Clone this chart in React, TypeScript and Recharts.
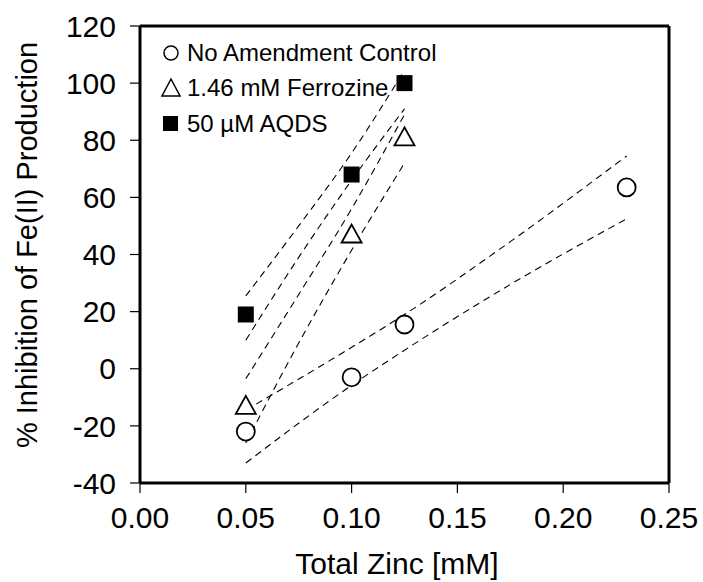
import React from 'react';
import { ComposedChart, Scatter, Line, XAxis, YAxis, ReferenceLine } from 'recharts';

// measured points
const zincNoAmend = [0.05, 0.1, 0.125, 0.23];
const noAmendment = [-22, -3, 15.5, 63.5];
const zincAdded = [0.05, 0.1, 0.125];
const ferrozine = [-13, 47, 81];
const aqds = [19, 68, 100];

// dashed confidence bands
const bandXNoAmend = [0.05, 0.1, 0.125, 0.175, 0.23];
const noAmendUpper = [-14.5, 7.5, 19, 44.5, 74.5];
const noAmendLower = [-33, -5.8, 6.5, 29.5, 52.5];
const bandXAdded = [0.05, 0.075, 0.1, 0.125];
const ferrozineUpper = [-3.5, 26, 56, 89];
const ferrozineLower = [-26, 9, 41.5, 72];
const aqdsUpper = [25.5, 50, 75.5, 104.5];
const aqdsLower = [10, 39, 66, 91];

const xTicks = [0, 0.05, 0.1, 0.15, 0.2, 0.25];
const yTicks = [-40, -20, 0, 20, 40, 60, 80, 100, 120];

const legendItems = ['No Amendment Control', '1.46 mM Ferrozine', '50 µM AQDS'];

const toPts = (xs: number[], ys: number[]) => xs.map((x, i) => ({ x, y: ys[i] }));

const FONT = '"Liberation Sans", Arial, sans-serif';

const CircleMark = (props: any) => (
  <circle cx={props.cx} cy={props.cy} r={9} fill="#fff" stroke="#000" strokeWidth={1.8} />
);
const TriangleMark = (props: any) => {
  const { cx, cy } = props;
  return (
    <polygon
      points={`${cx},${cy - 10} ${cx - 10},${cy + 8} ${cx + 10},${cy + 8}`}
      fill="#fff"
      stroke="#000"
      strokeWidth={1.8}
    />
  );
};
const SquareMark = (props: any) => (
  <rect x={props.cx - 8} y={props.cy - 8} width={16} height={16} fill="#000" />
);

// legend sits inside the plot frame, top left
const LegendBox = () => (
  <div
    style={{
      position: 'absolute',
      left: 160,
      top: 35,
      fontFamily: FONT,
      fontSize: 24,
      color: '#000',
    }}
  >
    {legendItems.map((name, i) => (
      <div key={name} style={{ display: 'flex', alignItems: 'center', height: 35.5 }}>
        <svg width={22} height={22} style={{ marginRight: 5 }}>
          {i === 0 && <circle cx={11} cy={11} r={7} fill="#fff" stroke="#000" strokeWidth={1.5} />}
          {i === 1 && <polygon points="11,2 2,19 20,19" fill="#fff" stroke="#000" strokeWidth={1.5} />}
          {i === 2 && <rect x={3} y={3} width={15} height={15} fill="#000" />}
        </svg>
        <span>{name}</span>
      </div>
    ))}
  </div>
);

const bandProps = {
  type: 'monotone' as const,
  dataKey: 'y',
  stroke: '#000',
  strokeWidth: 1.1,
  strokeDasharray: '7 5',
  dot: false,
  activeDot: false,
  isAnimationActive: false,
  legendType: 'none' as const,
};

export default function App() {
  return (
    <div style={{ position: 'absolute', left: 0, top: 0, width: 703, height: 582, background: '#fff' }}>
      <ComposedChart
        width={703}
        height={582}
        margin={{ top: 26, right: 34, bottom: 0, left: 0 }}
        style={{ fontFamily: FONT }}
      >
        <XAxis
          type="number"
          dataKey="x"
          domain={[0, 0.25]}
          ticks={xTicks}
          tickFormatter={(v: number) => v.toFixed(2)}
          allowDataOverflow
          height={99}
          tickSize={10}
          tickMargin={14}
          axisLine={{ stroke: '#000', strokeWidth: 3 }}
          tickLine={{ stroke: '#000', strokeWidth: 1.2 }}
          tick={{ fill: '#000', fontSize: 30 }}
          label={() => (
            <text x={397} y={574} textAnchor="middle" fontSize={30} fill="#000" fontFamily={FONT}>
              Total Zinc [mM]
            </text>
          )}
        />
        <YAxis
          type="number"
          dataKey="y"
          domain={[-40, 120]}
          ticks={yTicks}
          allowDataOverflow
          width={140}
          tickSize={10}
          tickMargin={14}
          axisLine={{ stroke: '#000', strokeWidth: 3 }}
          tickLine={{ stroke: '#000', strokeWidth: 1.2 }}
          tick={{ fill: '#000', fontSize: 30 }}
          label={() => (
            <text
              x={27}
              y={245}
              transform="rotate(-90, 27, 245)"
              textAnchor="middle"
              dominantBaseline="central"
              fontSize={29}
              fill="#000"
              fontFamily={FONT}
            >
              % Inhibition of Fe(II) Production
            </text>
          )}
        />
        <ReferenceLine y={120} stroke="#000" strokeWidth={3} />
        <ReferenceLine x={0.25} stroke="#000" strokeWidth={3} />

        <Line {...bandProps} data={toPts(bandXNoAmend, noAmendUpper)} />
        <Line {...bandProps} data={toPts(bandXNoAmend, noAmendLower)} />
        <Line {...bandProps} data={toPts(bandXAdded, ferrozineUpper)} />
        <Line {...bandProps} data={toPts(bandXAdded, ferrozineLower)} />
        <Line {...bandProps} data={toPts(bandXAdded, aqdsUpper)} />
        <Line {...bandProps} data={toPts(bandXAdded, aqdsLower)} />

        <Scatter
          name={legendItems[0]}
          data={toPts(zincNoAmend, noAmendment)}
          dataKey="y"
          shape={CircleMark}
          isAnimationActive={false}
        />
        <Scatter
          name={legendItems[1]}
          data={toPts(zincAdded, ferrozine)}
          dataKey="y"
          shape={TriangleMark}
          isAnimationActive={false}
        />
        <Scatter
          name={legendItems[2]}
          data={toPts(zincAdded, aqds)}
          dataKey="y"
          shape={SquareMark}
          isAnimationActive={false}
        />
      </ComposedChart>
      <LegendBox />
    </div>
  );
}
